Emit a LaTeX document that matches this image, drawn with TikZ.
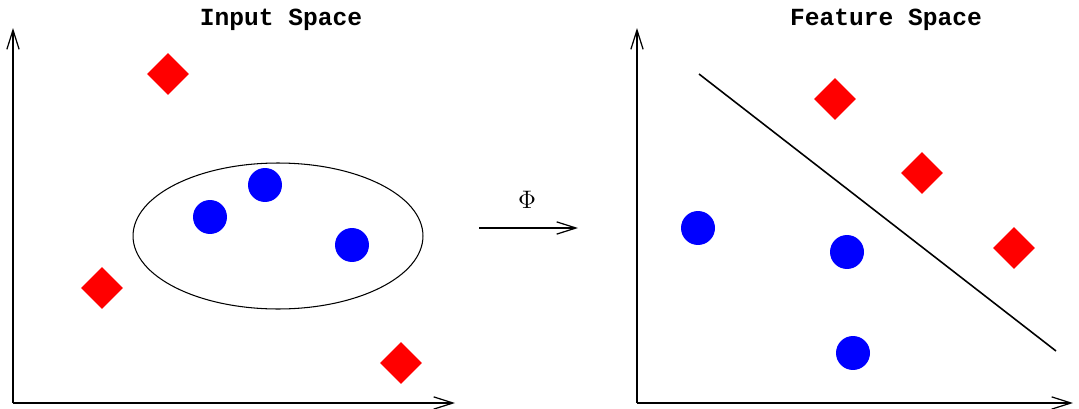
\documentclass[tikz,border=0pt]{standalone}
\usepackage{fontspec}
\setmonofont{Liberation Mono}
\usetikzlibrary{positioning,arrows.meta,shapes.geometric}
\definecolor{classA}{HTML}{FF0000}
\definecolor{classB}{HTML}{0000FF}

\begin{document}
\begin{tikzpicture}[x=0.02cm,y=-0.02cm,
          every node/.style={inner sep=0pt},
          title/.style={font=\fontsize{14pt}{16pt}\selectfont\ttfamily\bfseries},
          axis/.style={line width=1.1pt,-{Straight Barb[length=11pt,width=7pt,line width=0.7pt]}},
          redpt/.style={diamond,fill=classA,minimum width=0.84cm,minimum height=0.84cm},
          bluept/.style={circle,fill=classB,minimum size=0.68cm},
        ]
        \useasboundingbox (0,0) rectangle (1079,409);
        % titles
        \node[title] (tin) at (281,20) {Input Space};
        \node[title] (tfeat) at (886,20) {Feature Space};
        % axes
        \draw[axis] (13,403) -- (13,28);
        \draw[axis] (13,403) -- (455,403);
        \draw[axis] (637,403) -- (637,28);
        \draw[axis] (637,403) -- (1073,403);
        % input space
        \node[ellipse,draw,line width=0.6pt,minimum width=5.8cm,minimum height=2.92cm]
              (blob) at (278,236) {};
        \foreach \x/\y/\n in {168/74/a1,102/288/a2,401/363/a3}
          \node[redpt] (\n) at (\x,\y) {};
        \foreach \x/\y/\n in {210/217/b1,265/185/b2,352/245/b3}
          \node[bluept] (\n) at (\x,\y) {};
        % the map
        \coordinate (phis) at (479,228);
        \coordinate (phie) at (578,228);
        \draw[line width=1.2pt,-{Straight Barb[length=11pt,width=7pt,line width=0.7pt]}]
              (phis) -- (phie);
        \node[font=\fontsize{13.5pt}{15pt}\selectfont] (phi) at (527,200) {$\Phi$};
        % feature space
        \foreach \x/\y/\n in {835/99/c1,922/173/c2,1014/248/c3}
          \node[redpt] (\n) at (\x,\y) {};
        \foreach \x/\y/\n in {698/228/d1,847/252/d2,853/353/d3}
          \node[bluept] (\n) at (\x,\y) {};
        \coordinate (sep1) at (699,74);
        \coordinate (sep2) at (1056,351);
        \draw[line width=0.9pt] (sep1) -- (sep2);
      \end{tikzpicture}
\end{document}
